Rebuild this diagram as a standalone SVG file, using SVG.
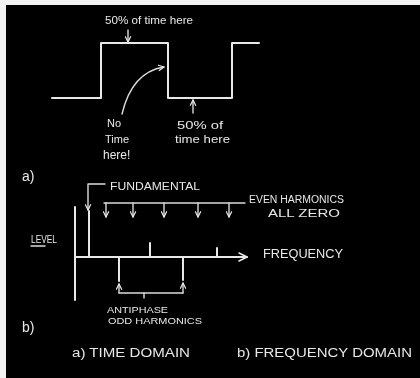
<svg xmlns="http://www.w3.org/2000/svg" width="420" height="378" viewBox="0 0 420 378">
  <style>
    .ln { fill: none; stroke: #e8e8e8; stroke-width: 2; stroke-linecap: round; stroke-linejoin: round; }
    .thin { fill: none; stroke: #dcdcdc; stroke-width: 1.4; stroke-linecap: round; stroke-linejoin: round; }
    .t { fill: #e8e8e8; font-family: "Liberation Sans", Arial, sans-serif; }
  </style>
  <defs>
    <marker id="arr" viewBox="0 0 8 8" refX="7" refY="4" markerWidth="7" markerHeight="7" orient="auto" markerUnits="userSpaceOnUse">
      <path d="M1,1 L7,4 L1,7" fill="none" stroke="#e8e8e8" stroke-width="1.4" stroke-linecap="round" stroke-linejoin="round"/>
    </marker>
    <marker id="big" viewBox="0 0 10 10" refX="9" refY="5" markerWidth="10" markerHeight="10" orient="auto" markerUnits="userSpaceOnUse">
      <path d="M1,1 L9,5 L1,9" fill="none" stroke="#e8e8e8" stroke-width="1.6" stroke-linecap="round" stroke-linejoin="round"/>
    </marker>
    <filter id="chalk" x="-5%" y="-5%" width="110%" height="110%">
      <feGaussianBlur stdDeviation="0.35"/>
    </filter>
  </defs>

  <rect x="0" y="0" width="420" height="378" fill="#f2f2f2"/>
  <rect x="6" y="5" width="414" height="373" fill="#000"/>

  <g filter="url(#chalk)">
    <!-- Time domain waveform -->
    <g id="square-wave">
      <path class="ln" d="M52,98 L101,98 L101,43 L168,43 L168,98 L232,98 L232,43 L259,43"/>
    </g>

    <g id="label-high">
      <text class="t" x="105" y="24" font-size="11" textLength="88" lengthAdjust="spacingAndGlyphs">50% of time here</text>
    </g>

    <g id="label-notime">
      <text class="t" x="107" y="127" font-size="11">No</text>
      <text class="t" x="105" y="143" font-size="11">Time</text>
      <text class="t" x="103" y="159" font-size="12">here!</text>
    </g>

    <g id="label-low">
      <text class="t" x="177" y="129" font-size="11" textLength="46" lengthAdjust="spacingAndGlyphs">50% of</text>
      <text class="t" x="175" y="143" font-size="11" textLength="55" lengthAdjust="spacingAndGlyphs">time here</text>
    </g>

    <g id="label-a">
      <text class="t" x="22" y="181" font-size="14">a)</text>
    </g>

    <!-- Frequency domain -->
    <g id="axes">
      <path class="ln" d="M75,207 L75,300"/>
      <path class="ln" d="M75,257 L247,257" marker-end="url(#big)"/>
    </g>

    <g id="spectrum">
      <path class="ln" d="M89,211 L89,257"/>
      <path class="ln" d="M150,243 L150,257"/>
      <path class="ln" d="M217,248 L217,257"/>
      <path class="ln" d="M119,257 L119,281"/>
      <path class="ln" d="M183,257 L183,280"/>
    </g>

    <g id="label-level">
      <text class="t" x="31" y="243" font-size="10" textLength="26" lengthAdjust="spacingAndGlyphs">LEVEL</text>
      <path class="thin" d="M31,246 L45,246"/>
    </g>

    <g id="label-fundamental">
      <text class="t" x="110" y="190" font-size="11" textLength="90" lengthAdjust="spacingAndGlyphs">FUNDAMENTAL</text>
    </g>

    <g id="label-even">
      <text class="t" x="249" y="203" font-size="10" textLength="95" lengthAdjust="spacingAndGlyphs">EVEN HARMONICS</text>
      <text class="t" x="268" y="217" font-size="10" textLength="72" lengthAdjust="spacingAndGlyphs">ALL ZERO</text>
    </g>

    <g id="label-frequency">
      <text class="t" x="263" y="258" font-size="13" textLength="80" lengthAdjust="spacingAndGlyphs">FREQUENCY</text>
    </g>

    <g id="label-antiphase">
      <text class="t" x="107" y="313" font-size="8.5" textLength="61" lengthAdjust="spacingAndGlyphs">ANTIPHASE</text>
      <text class="t" x="108" y="324" font-size="8.5" textLength="94" lengthAdjust="spacingAndGlyphs">ODD HARMONICS</text>
    </g>

    <g id="label-b">
      <text class="t" x="22" y="332" font-size="14">b)</text>
    </g>

    <g id="caption">
      <text class="t" x="72" y="357" font-size="12" textLength="118" lengthAdjust="spacingAndGlyphs">a) TIME DOMAIN</text>
      <text class="t" x="237" y="357" font-size="12" textLength="175" lengthAdjust="spacingAndGlyphs">b) FREQUENCY DOMAIN</text>
    </g>

    <!-- Connectors -->
    <g id="connectors">
      <path class="thin" d="M128,30 L128,42" marker-end="url(#arr)"/>
      <path class="thin" d="M122,114 Q132,72 164,67" marker-end="url(#arr)"/>
      <path class="thin" d="M193,113 L193,100" marker-end="url(#arr)"/>
      <path class="thin" d="M105,184 L88,184 L88,210" marker-end="url(#arr)"/>
      <path class="thin" d="M245,203 L104,203"/>
      <path class="thin" d="M106,203 L106,217" marker-end="url(#arr)"/>
      <path class="thin" d="M133,203 L133,217" marker-end="url(#arr)"/>
      <path class="thin" d="M164,203 L164,217" marker-end="url(#arr)"/>
      <path class="thin" d="M198,203 L198,217" marker-end="url(#arr)"/>
      <path class="thin" d="M229,203 L229,217" marker-end="url(#arr)"/>
      <path class="thin" d="M144,298 L144,293"/>
      <path class="thin" d="M119,293 L183,293"/>
      <path class="thin" d="M119,293 L119,284" marker-end="url(#arr)"/>
      <path class="thin" d="M183,293 L183,283" marker-end="url(#arr)"/>
    </g>
  </g>
</svg>
